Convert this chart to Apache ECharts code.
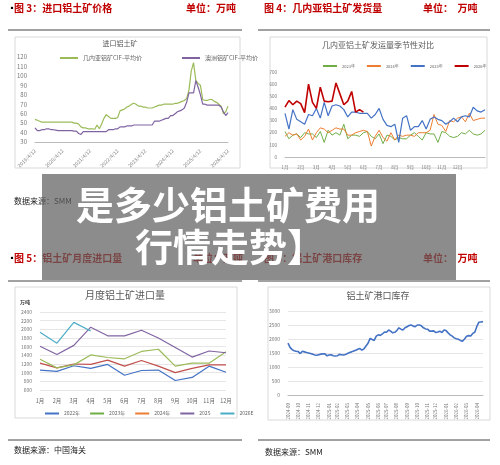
<!DOCTYPE html><html><head><meta charset="utf-8"><script src="https://cdn.jsdelivr.net/npm/echarts@6/dist/echarts.min.js"></script>
<style>html,body{margin:0;background:#fff}#c{width:500px;height:465px}</style></head><body><div id="c"></div><script>
// Panel 1: imported bauxite price (monthly, 2019/4 - 2026/4)
const p1Guinea=[54,53,52,51,51,51,51,51,51,51,51,51,51,51,51,51,51,50,50,49,46,45,45,44,44,44,43.5,48,44,49,55,59,57,55,55,55,56,63,64,65,67,68,70,71,70,68,68,67,67,66,66,66,67,68,69,69,70,70,70,70,70,71,71,72,73,74,76,85,105,114,95,92,90,75,74,74,75,75,73,72,70,68,60,62,68];
const p1Aus=[45,42,42,43,43,44,44,43,43,42.5,42,42,42,42,42,42,42,41.5,41.5,39,38,41,41,41,41,41,41,41,41,41,41,41,43,43,43,44,44,46,46,46,47,47,47,48,48,48,48,48,48,48,48,48,52,52,52,53,54,55,55,58,58,60,62,63,64,66,72,82,82,82,95,88,80,70,70,69,69,69,69,69,69,67,62,58,61];
const p1Years=["2019/4/12","2020/4/12","2021/4/12","2022/4/12","2023/4/12","2024/4/12","2025/4/12","2026/4/12"];
// Panel 2: Guinea bauxite shipments, weekly
const p2Months=["1月","2月","3月","4月","5月","6月","7月","8月","9月","10月","11月","12月"];
const p2y2023=[210,150,180,190,160,200,190,190,160,210,120,220,180,200,180,270,150,180,180,170,200,210,170,150,190,110,180,170,140,160,150,150,180,200,170,140,200,190,190,120,210,200,170,160,170,200,190,220,190,180,190,220];
const p2y2024=[170,200,180,190,140,170,230,140,200,240,230,200,220,240,230,230,180,180,200,210,220,210,90,170,220,160,130,200,140,180,170,180,180,170,200,200,200,220,350,270,260,210,300,290,320,330,290,360,300,310,320,320];
const p2y2025=[360,230,390,310,290,270,350,340,400,320,450,340,420,430,420,390,330,370,370,360,360,360,320,350,400,310,260,250,270,120,320,340,220,250,250,300,230,310,330,310,300,270,290,320,290,330,340,330,410,380,370,390];
const p2y2026=[410,465,430,460,440,365,600,450,400,575,460,455,460,610,520,430,460,540,370,390,370];
// Panel 3: monthly bauxite imports
const p3Months=["1月","2月","3月","4月","5月","6月","7月","8月","9月","10月","11月","12月"];
const p3y2022=[1060,1030,1160,1100,1190,940,1050,1060,820,890,1150,1010];
const p3y2023=[1220,1110,1200,1190,1290,1150,1280,1150,1000,1100,1180,1180];
const p3y2024=[1310,1110,1180,1410,1350,1320,1490,1540,1150,1220,1220,1480];
const p3y2025=[1610,1420,1630,2050,1850,1850,1980,1800,1580,1360,1500,1460];
const p3y2026=[1930,1680,2160,1960];
// Panel 4: port inventory, weekly from 2024-09
const p4Months=["2024-09","2024-10","2024-11","2024-12","2025-01","2025-02","2025-03","2025-04","2025-05","2025-06","2025-07","2025-08","2025-09","2025-10","2025-11","2025-12","2026-01","2026-02","2026-03","2026-04"];
const p4Inv=[1850,1700,1620,1580,1560,1550,1480,1560,1540,1520,1500,1480,1460,1430,1420,1440,1460,1470,1470,1400,1430,1440,1400,1390,1400,1450,1440,1430,1450,1480,1520,1540,1570,1600,1630,1660,1600,1650,1750,1850,2020,1980,1950,2100,2150,2130,2180,2250,2240,2320,2280,2220,2240,2300,2400,2350,2320,2400,2440,2480,2500,2460,2440,2500,2500,2470,2400,2360,2350,2280,2280,2290,2230,2250,2280,2230,2320,2300,2220,2150,2100,2040,2010,1990,1950,1920,2000,2100,2120,2110,2200,2240,2450,2600,2610,2620];

const F='"Noto Sans CJK SC", sans-serif';
const p1Cats=p1Guinea.map((_,i)=>i);
const p2Cats=p2y2025.map((_,i)=>i);
const p4Cats=p4Inv.map((_,i)=>i);
const p4PerMonth=p4Inv.length/p4Months.length;
const plain=v=>String(v);
const grayAx={axisLine:{show:false},axisTick:{show:false},splitLine:{lineStyle:{color:'#e6e6e6'}},axisLabel:{fontSize:6,color:'#777',fontFamily:F,formatter:plain}};
const ch=echarts.init(document.getElementById('c'));
function hdr(x,y,t,sz){return {type:'text',left:x,top:y,style:{text:t,fill:'#c00000',font:'bold '+(sz||10)+'px '+F}};}
function box(x,y,w,h){return {type:'rect',shape:{x:x,y:y,width:w,height:h},style:{fill:'none',stroke:'#d9d9d9',lineWidth:1},z:-1};}
function hl(x1,x2,y){return {type:'line',shape:{x1:x1,y1:y,x2:x2,y2:y},style:{stroke:'#444',lineWidth:1}};}
function ttl(cx,y,t,sz){return {type:'text',x:cx,y:y,style:{text:t,fill:'#595959',font:(sz||9)+'px '+F,textAlign:'center'}};}
function ln(name,data,color,xi,w){return {type:'line',name:name,data:data,xAxisIndex:xi,yAxisIndex:xi,showSymbol:false,symbol:'none',lineStyle:{color:color,width:w||1.2},itemStyle:{color:color}};}
ch.setOption({
 animation:false,
 textStyle:{fontFamily:F},
 grid:[
  {left:35,top:57,width:193,height:85},
  {left:285,top:72,width:200,height:85},
  {left:40,top:312,width:186,height:78},
  {left:288,top:311,width:195,height:84}
 ],
 legend:[
  {top:50,left:55,itemWidth:18,itemHeight:2,itemGap:40,icon:'rect',textStyle:{fontSize:6,color:'#666'},data:['几内亚铝矿CIF-平均价','澳洲铝矿CIF-平均价']},
  {top:59,left:318,itemWidth:14,itemHeight:2,itemGap:12,icon:'rect',textStyle:{fontSize:4,color:'#666'},data:['2023年','2024年','2025年','2026年']},
  {top:406,left:40,itemWidth:14,itemHeight:2,itemGap:10,icon:'rect',textStyle:{fontSize:5,color:'#666'},data:['2022年','2023年','2024年','2025','2026E']}
 ],
 xAxis:[
  {gridIndex:0,type:'category',data:p1Cats,boundaryGap:false,axisLine:{lineStyle:{color:'#bbb'}},axisTick:{show:false},
   axisLabel:{interval:11,rotate:45,fontSize:5,color:'#777',formatter:(v,i)=>p1Years[i/12]||''}},
  {gridIndex:1,type:'category',data:p2Cats,boundaryGap:false,axisLine:{lineStyle:{color:'#bbb'}},axisTick:{show:false},
   axisLabel:{interval:(i)=>i%Math.round(52/12)===0&&i/Math.round(52/12)<12,fontSize:4.5,color:'#777',formatter:(v,i)=>p2Months[Math.round(i/Math.round(52/12))]||''}},
  {gridIndex:2,type:'category',data:p3Months,boundaryGap:false,axisLine:{show:false},axisTick:{show:false},axisLabel:{fontSize:5.5,color:'#666'}},
  {gridIndex:3,type:'category',data:p4Cats,boundaryGap:false,axisLine:{lineStyle:{color:'#bbb'}},axisTick:{show:false},
   axisLabel:{interval:(i)=>Math.floor(i/p4PerMonth)!==Math.floor((i-1)/p4PerMonth)||i===0,rotate:90,fontSize:4.5,color:'#777',formatter:(v,i)=>p4Months[Math.floor(i/p4PerMonth)]}}
 ],
 yAxis:[
  Object.assign({gridIndex:0,type:'value',min:30,max:120,interval:10},grayAx,{splitLine:{show:false}}),
  Object.assign({gridIndex:1,type:'value',min:0,max:700,interval:100},grayAx,{splitLine:{show:false},axisLabel:{fontSize:4.5,color:'#777',formatter:plain}}),
  Object.assign({gridIndex:2,type:'value',min:600,max:2400,interval:200},grayAx,{axisLabel:{fontSize:5,color:'#777',formatter:plain}}),
  Object.assign({gridIndex:3,type:'value',min:0,max:3000,interval:500},grayAx,{axisLabel:{fontSize:5,color:'#777',formatter:plain}})
 ],
 series:[
  ln('几内亚铝矿CIF-平均价',p1Guinea,'#9bbb59',0),
  ln('澳洲铝矿CIF-平均价',p1Aus,'#8064a2',0),
  ln('2023年',p2y2023,'#70ad47',1,1),
  ln('2024年',p2y2024,'#ed7d31',1,1),
  ln('2025年',p2y2025,'#4472c4',1,1.2),
  ln('2026年',p2y2026,'#c00000',1,1.6),
  ln('2022年',p3y2022,'#4472c4',2),
  ln('2023年',p3y2023,'#c0504d',2),
  ln('2024年',p3y2024,'#9bbb59',2),
  ln('2025',p3y2025,'#8064a2',2),
  ln('2026E',p3y2026,'#4bacc6',2),
  ln('库存',p4Inv,'#4472c4',3,1.6)
 ],
 graphic:[
  box(15,37,225,131),box(270,37,217,131),box(15,287,222,131),box(268,287,222,133),
  hl(8,242,30),hl(258,490,30),hl(8,242,281),hl(258,490,281),hl(8,242,440),hl(258,490,440),
  {type:'text',left:8,top:4,style:{text:'▪',fill:'#000',font:'8px '+F}},
  hdr(14,3,'图 3：进口铝土矿价格'),hdr(186,3,'单位：万吨'),
  hdr(264,3,'图 4：几内亚铝土矿发货量'),hdr(423,3,'单位：  万吨'),
  {type:'text',left:8,top:254,style:{text:'▪',fill:'#000',font:'8px '+F}},
  hdr(14,253,'图 5：铝土矿月度进口量'),hdr(193,253,'单位：万吨'),
  hdr(264,253,'图 6：铝土矿港口库存'),hdr(423,253,'单位：  万吨'),
  ttl(120,40,'进口铝土矿',7),ttl(378,41,'几内亚铝土矿发运量季节性对比',8),
  ttl(125,290,'月度铝土矿进口量',10),ttl(378,291,'铝土矿港口库存',9),
  {type:'text',left:20,top:300,style:{text:'万吨',fill:'#333',font:'bold 5px '+F}},
  {type:'text',left:14,top:446,style:{text:'数据来源：中国海关',fill:'#222',font:'8px '+F}},
  {type:'text',left:265,top:448,style:{text:'数据来源：SMM',fill:'#222',font:'8px '+F}},
  {type:'text',left:14,top:197,style:{text:'数据来源：SMM',fill:'#222',font:'8px '+F}},
  {type:'rect',shape:{x:42,y:174,width:414,height:106},style:{fill:'rgba(95,95,95,0.72)'},z:50},
  {type:'text',x:228,y:186,z:51,style:{text:'是多少铝土矿费用',fill:'#fff',font:'bold 38px '+F,textAlign:'center'}},
  {type:'text',x:230,y:228,z:51,style:{text:'行情走势】',fill:'#fff',font:'bold 38px '+F,textAlign:'center'}}
 ]
});
</script></body></html>
